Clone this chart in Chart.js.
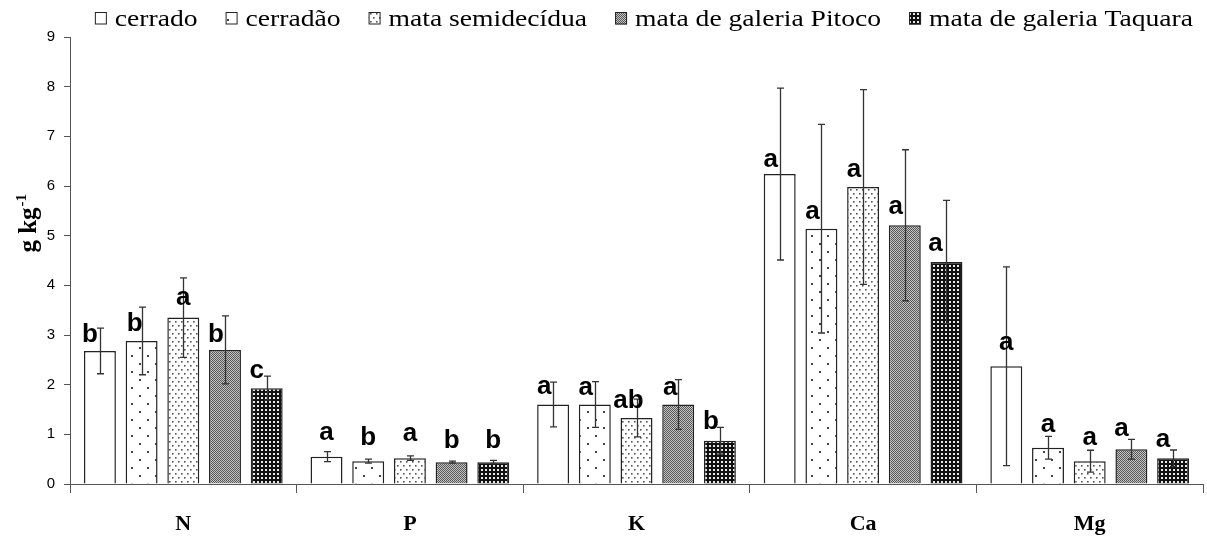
<!DOCTYPE html>
<html>
<head>
<meta charset="utf-8">
<script src="https://cdn.jsdelivr.net/npm/chart.js@4.4.0/dist/chart.umd.min.js"></script>
<style>
  html, body { margin: 0; padding: 0; background: #fff; }
</style>
</head>
<body>
<canvas id="nutrients" width="1207" height="540"></canvas>
<script>
const nutrients = ['N', 'P', 'K', 'Ca', 'Mg'];
const vegetation = ['cerrado', 'cerradão', 'mata semidecídua', 'mata de galeria Pitoco', 'mata de galeria Taquara'];

// means (g kg-1), ordered like nutrients
const cerrado     = [2.68, 0.55, 1.60, 6.24, 2.37];
const cerradao    = [2.88, 0.46, 1.60, 5.14, 0.73];
const semidecidua = [3.35, 0.52, 1.33, 5.98, 0.46];
const pitoco      = [2.70, 0.44, 1.60, 5.21, 0.70];
const taquara     = [1.93, 0.44, 0.87, 4.47, 0.52];

// standard deviations
const cerradoSd     = [0.46, 0.10, 0.45, 1.73, 2.00];
const cerradaoSd    = [0.68, 0.04, 0.46, 2.10, 0.23];
const semideciduaSd = [0.80, 0.045, 0.38, 1.96, 0.22];
const pitocoSd      = [0.685, 0.02, 0.50, 1.52, 0.20];
const taquaraSd     = [0.24, 0.035, 0.27, 1.24, 0.165];

// letters from the mean comparison test
const cerradoLetters     = ['b', 'a', 'a', 'a', 'a'];
const cerradaoLetters    = ['b', 'b', 'a', 'a', 'a'];
const semideciduaLetters = ['a', 'a', 'ab', 'a', 'a'];
const pitocoLetters      = ['b', 'b', 'a', 'a', 'a'];
const taquaraLetters     = ['c', 'b', 'b', 'a', 'a'];

// where each letter sits: height on the y scale and a small sideways nudge in px
const letterAt = [
  [3.06, 1.02, 1.95, 6.53, 2.83],
  [3.27, 0.97, 1.93, 5.48, 1.19],
  [3.74, 1.01, 1.72, 6.33, 0.92],
  [3.06, 0.92, 1.93, 5.57, 1.10],
  [2.28, 0.92, 1.30, 4.84, 0.89]
];
const letterShift = [
  [-10, 0, -9, -9, 0],
  [-7, 0, -9, -9, 0],
  [0, 0, -8, -9, 0],
  [-9, 0, -8, -9, -10],
  [-10, 0, -9, -11, -10]
];

function makePattern(w, h, paint) {
  const c = document.createElement('canvas');
  c.width = w;
  c.height = h;
  const g = c.getContext('2d');
  paint(g);
  return g.createPattern(c, 'repeat');
}

const plain = '#ffffff';
const sparseDots = makePattern(16, 16, g => {
  g.fillStyle = '#fff'; g.fillRect(0, 0, 16, 16);
  g.fillStyle = '#444';
  g.fillRect(3, 3, 2, 2);
  g.fillRect(11, 11, 2, 2);
});
const denseDots = makePattern(6, 8, g => {
  g.fillStyle = '#fff'; g.fillRect(0, 0, 6, 8);
  g.fillStyle = '#555';
  g.fillRect(1, 1, 1.6, 1.6);
  g.fillRect(4, 5, 1.6, 1.6);
});
const fineGrey = makePattern(2, 2, g => {
  g.fillStyle = '#c4c4c4'; g.fillRect(0, 0, 2, 2);
  g.fillStyle = '#585858';
  g.fillRect(0, 0, 1, 1);
  g.fillRect(1, 1, 1, 1);
});
const darkGrid = makePattern(4, 4, g => {
  g.fillStyle = '#111'; g.fillRect(0, 0, 4, 4);
  g.fillStyle = '#e8e8e8';
  g.fillRect(1, 1, 2, 2);
});

function series(i, values, sd, letters, fill) {
  return {
    label: vegetation[i],
    data: values,
    sd: sd,
    letters: letters,
    backgroundColor: fill,
    borderColor: '#222',
    borderWidth: 1.5,
    categoryPercentage: 0.92,
    barPercentage: 0.766
  };
}

const errorBars = {
  id: 'errorBars',
  afterDatasetsDraw(chart) {
    const ctx = chart.ctx;
    const y = chart.scales.y;
    ctx.save();
    ctx.strokeStyle = '#333';
    ctx.lineWidth = 1.3;
    chart.data.datasets.forEach((ds, i) => {
      chart.getDatasetMeta(i).data.forEach((bar, j) => {
        const hi = y.getPixelForValue(ds.data[j] + ds.sd[j]);
        const lo = y.getPixelForValue(Math.max(0, ds.data[j] - ds.sd[j]));
        const x = Math.round(bar.x) + 0.5;
        ctx.beginPath();
        ctx.moveTo(x, hi); ctx.lineTo(x, lo);
        ctx.moveTo(x - 3.5, hi); ctx.lineTo(x + 3.5, hi);
        ctx.moveTo(x - 3.5, lo); ctx.lineTo(x + 3.5, lo);
        ctx.stroke();
      });
    });

    // letters
    ctx.fillStyle = '#000';
    ctx.font = 'bold 26px "Liberation Sans", Arial, sans-serif';
    ctx.textAlign = 'center';
    ctx.textBaseline = 'alphabetic';
    chart.data.datasets.forEach((ds, i) => {
      chart.getDatasetMeta(i).data.forEach((bar, j) => {
        const t = ds.letters[j];
        const m = ctx.measureText(t);
        const yc = y.getPixelForValue(letterAt[i][j]);
        const base = yc + (m.actualBoundingBoxAscent - m.actualBoundingBoxDescent) / 2;
        ctx.fillText(t, bar.x + letterShift[i][j], base);
      });
    });
    ctx.restore();
  }
};

// legend row across the top and the rotated unit title
const decorations = {
  id: 'decorations',
  afterDraw(chart) {
    const ctx = chart.ctx;
    const area = chart.chartArea;
    ctx.save();

    const sx = 1.15;
    ctx.font = '24px "Liberation Serif", "Times New Roman", serif';
    ctx.textBaseline = 'alphabetic';
    ctx.textAlign = 'left';
    let cursor = area.right - 10;
    const sets = chart.data.datasets;
    for (let i = sets.length - 1; i >= 0; i--) {
      const w = ctx.measureText(sets[i].label).width * sx;
      const tx = cursor - w;
      const bx = tx - 8 - 12;
      ctx.save();
      ctx.translate(tx, 26);
      ctx.scale(sx, 1);
      ctx.fillStyle = '#000';
      ctx.fillText(sets[i].label, 0, 0);
      ctx.restore();
      ctx.fillStyle = sets[i].backgroundColor;
      ctx.fillRect(bx, 12.5, 12, 12);
      ctx.strokeStyle = '#222';
      ctx.lineWidth = 1;
      ctx.strokeRect(bx + 0.5, 12.5, 11, 11.5);
      cursor = bx - 28;
    }

    // g kg-1
    const y = chart.scales.y;
    const big = 'bold 25px "Liberation Serif", "Times New Roman", serif';
    const small = 'bold 15px "Liberation Serif", "Times New Roman", serif';
    ctx.font = big;
    const w1 = ctx.measureText('g kg').width;
    ctx.font = small;
    const w2 = ctx.measureText('-1').width;
    const cy = y.getPixelForValue(5.24);
    ctx.translate(36, cy);
    ctx.rotate(-Math.PI / 2);
    ctx.fillStyle = '#000';
    ctx.font = big;
    ctx.fillText('g kg', -(w1 + w2) / 2, 0);
    ctx.font = small;
    ctx.fillText('-1', -(w1 + w2) / 2 + w1 + 1, -10);
    ctx.restore();
  }
};

new Chart(document.getElementById('nutrients'), {
  type: 'bar',
  data: {
    labels: nutrients,
    datasets: [
      series(0, cerrado, cerradoSd, cerradoLetters, plain),
      series(1, cerradao, cerradaoSd, cerradaoLetters, sparseDots),
      series(2, semidecidua, semideciduaSd, semideciduaLetters, denseDots),
      series(3, pitoco, pitocoSd, pitocoLetters, fineGrey),
      series(4, taquara, taquaraSd, taquaraLetters, darkGrid)
    ]
  },
  options: {
    responsive: false,
    animation: false,
    devicePixelRatio: 1,
    layout: { padding: { top: 37, right: 4, bottom: 0, left: 0 } },
    plugins: {
      legend: { display: false },
      tooltip: { enabled: false }
    },
    scales: {
      x: {
        grid: { drawOnChartArea: false, offset: true, tickLength: 9, color: '#555' },
        border: { color: '#555' },
        ticks: {
          color: '#000',
          padding: 18,
          font: { family: '"Liberation Serif", "Times New Roman", serif', size: 22, weight: 'bold' }
        },
        afterFit: s => { s.height = 56; }
      },
      y: {
        min: 0,
        max: 9,
        grid: { drawOnChartArea: false, tickLength: 6, color: '#555' },
        border: { color: '#555' },
        ticks: {
          stepSize: 1,
          color: '#000',
          padding: 9,
          font: { family: '"Liberation Sans", Arial, sans-serif', size: 15 }
        },
        afterFit: s => { s.width = 70; }
      }
    }
  },
  plugins: [errorBars, decorations]
});
</script>
</body>
</html>
